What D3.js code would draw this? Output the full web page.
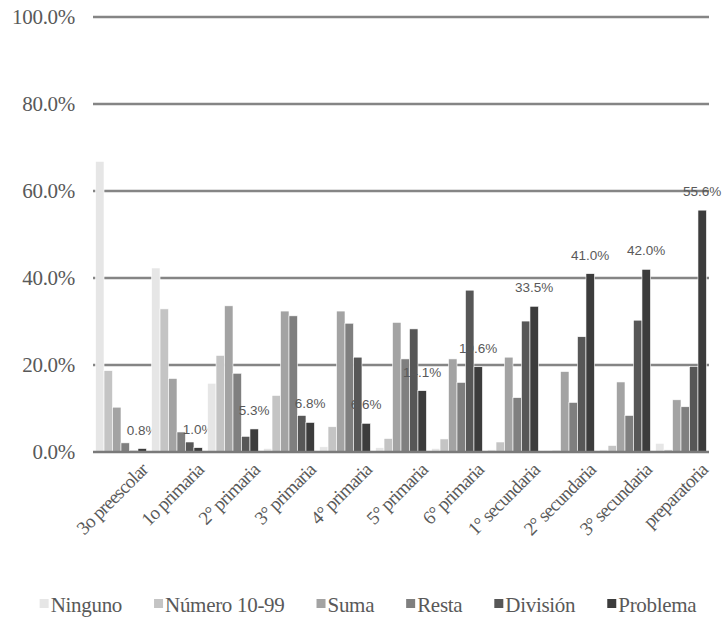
<!DOCTYPE html>
<html>
<head>
<meta charset="utf-8">
<script src="https://cdn.jsdelivr.net/npm/d3@7"></script>
<style>
  html, body { margin: 0; padding: 0; background: #fff; }
  svg { display: block; }
  .serif { font-family: "Liberation Serif", "DejaVu Serif", "Times New Roman", serif; }
  .sans { font-family: "Liberation Sans", "DejaVu Sans", Arial, sans-serif; }
</style>
</head>
<body>
<svg id="chart" width="725" height="625"></svg>
<script>
// Categories (school level) and series (highest task solved)
const categories = ["3o preescolar", "1o primaria", "2° primaria", "3° primaria", "4° primaria",
  "5° primaria", "6° primaria", "1° secundaria", "2° secundaria", "3° secundaria", "preparatoria"];
const seriesNames = ["Ninguno", "Número 10-99", "Suma", "Resta", "División", "Problema"];

// Percent of children per level
const ninguno  = [66.8, 42.3, 15.8, 0.8, 1.2, 1.0, 0.8, 0.5, 0.3, 0.5, 2.0];
const numero   = [18.7, 32.9, 22.2, 13.0, 5.8, 3.1, 3.0, 2.3, 0.4, 1.5, 0.5];
const suma     = [10.3, 16.9, 33.6, 32.4, 32.4, 29.8, 21.4, 21.8, 18.5, 16.1, 12.0];
const resta    = [2.1, 4.6, 18.1, 31.3, 29.6, 21.4, 16.0, 12.5, 11.4, 8.4, 10.4];
const division = [0.3, 2.3, 3.6, 8.4, 21.8, 28.3, 37.2, 30.1, 26.5, 30.3, 19.7];
const problema = [0.8, 1.0, 5.3, 6.8, 6.6, 14.1, 19.6, 33.5, 41.0, 42.0, 55.6];

const yTicks = [0, 20, 40, 60, 80, 100];
const colors = ["#e6e6e6", "#c4c4c4", "#a3a3a3", "#7f7f7f", "#575757", "#3c3c3c"];

const seriesValues = [ninguno, numero, suma, resta, division, problema];
const rows = categories.map((c, i) => ({
  cat: c,
  vals: seriesNames.map((s, k) => ({ key: s, k, v: seriesValues[k][i] }))
}));

const svg = d3.select("#chart");
const textCol = "#595959";

const plot = { left: 93, right: 709, top: 17, bottom: 452 };

const x0 = d3.scaleBand().domain(categories).range([plot.left, plot.right]).paddingInner(0).paddingOuter(0);
const x1 = d3.scaleBand().domain(seriesNames).range([0, x0.bandwidth()]).paddingOuter(0.3).paddingInner(0);
const y = d3.scaleLinear().domain([0, 100]).range([plot.bottom, plot.top]);
const color = d3.scaleOrdinal().domain(seriesNames).range(colors);

// Horizontal gridlines
svg.append("g")
  .selectAll("line")
  .data(yTicks.filter(t => t > 0))
  .join("line")
  .attr("x1", plot.left).attr("x2", plot.right)
  .attr("y1", d => y(d)).attr("y2", d => y(d))
  .attr("stroke", "#858585")
  .attr("stroke-width", 2.5);

// Y axis labels only
const yAxis = d3.axisLeft(y)
  .tickValues(yTicks)
  .tickFormat(d => d3.format(".1f")(d) + "%")
  .tickSize(0)
  .tickPadding(18);
const gy = svg.append("g").attr("transform", `translate(${plot.left},0)`).call(yAxis);
gy.select(".domain").remove();
gy.attr("font-family", null).attr("font-size", null);
gy.selectAll("text")
  .attr("class", "serif")
  .style("font-size", "21px")
  .style("letter-spacing", "-0.3px")
  .attr("fill", textCol);

// Bars
const groups = svg.append("g")
  .selectAll("g")
  .data(rows)
  .join("g")
  .attr("transform", d => `translate(${x0(d.cat)},0)`);

groups.selectAll("rect")
  .data(d => d.vals)
  .join("rect")
  .attr("x", d => x1(d.key))
  .attr("width", x1.bandwidth())
  .attr("y", d => y(d.v))
  .attr("height", d => y(0) - y(d.v))
  .attr("fill", d => color(d.key))
  .attr("stroke", "#ffffff")
  .attr("stroke-width", 0.6);

// Baseline
svg.append("line")
  .attr("x1", plot.left).attr("x2", plot.right)
  .attr("y1", y(0)).attr("y2", y(0))
  .attr("stroke", "#7a7a7a")
  .attr("stroke-width", 2.5);

// Value labels for "Problema"
groups.append("text")
  .attr("class", "sans")
  .attr("x", x1("Problema") + x1.bandwidth() / 2)
  .attr("y", (d, i) => y(problema[i]) - 14)
  .attr("text-anchor", "middle")
  .style("font-size", "13.5px")
  .attr("fill", textCol)
  .text((d, i) => d3.format(".1f")(problema[i]) + "%");

// Category labels, rotated
svg.append("g")
  .selectAll("text")
  .data(categories)
  .join("text")
  .attr("class", "serif")
  .attr("transform", d => `translate(${x0(d) + x0.bandwidth() / 2 + 28},${plot.bottom + 19}) rotate(-45)`)
  .attr("text-anchor", "end")
  .style("font-size", "19px")
  .style("letter-spacing", "-0.8px")
  .attr("fill", textCol)
  .text(d => d);

// Legend
const legend = svg.append("g").attr("transform", "translate(0,612)");
const items = legend.selectAll("g")
  .data(seriesNames)
  .join("g");
items.append("rect")
  .attr("y", -13)
  .attr("width", 9).attr("height", 9)
  .attr("fill", d => color(d));
items.append("text")
  .attr("class", "serif")
  .attr("x", 11)
  .style("font-size", "21px")
  .style("letter-spacing", "-0.3px")
  .attr("fill", textCol)
  .text(d => d);

const gap = 32;
const widths = [];
items.each(function() {
  widths.push(11 + d3.select(this).select("text").node().getComputedTextLength());
});
const total = d3.sum(widths) + gap * (widths.length - 1);
let cursor = 368 - total / 2;
items.attr("transform", (d, i) => {
  const tx = cursor;
  cursor += widths[i] + gap;
  return `translate(${tx},0)`;
});
</script>
</body>
</html>
